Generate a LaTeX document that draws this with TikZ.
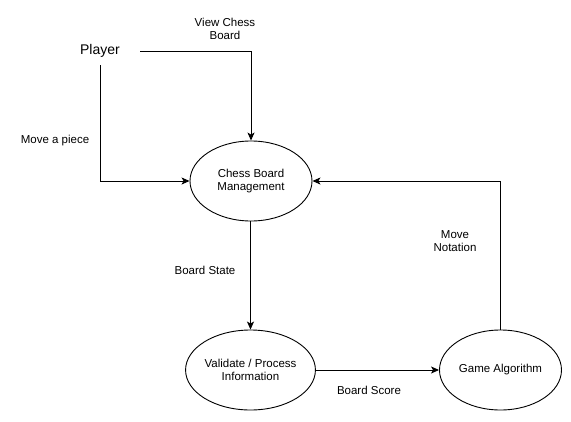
\documentclass[tikz,border=0pt]{standalone}
\usepackage{fontspec}
\setmainfont{Liberation Sans}
\usetikzlibrary{shapes.geometric,arrows.meta}

\tikzset{
  process/.style={ellipse,draw,line width=0.9pt,minimum width=122pt,minimum height=80pt,
    inner sep=0pt,align=center,font=\fontsize{11.5}{13.5}\selectfont},
  flowlabel/.style={align=center,font=\fontsize{11.5}{13.5}\selectfont},
  flow/.style={line width=0.9pt,-{Stealth[length=8pt,width=7pt,inset=2pt]}}
}

\begin{document}
\begin{tikzpicture}[x=1pt,y=-1pt]
  \useasboundingbox (0,0) rectangle (571,421);
  \node[minimum width=80pt,minimum height=28pt,inner sep=0pt,font=\fontsize{14}{16}\selectfont] (player) at (100,51) {Player};
  \node[process] (cbm) at (251,181) {Chess Board\\Management};
  \node[process] (validate) at (250.5,370) {Validate / Process\\Information};
  \node[process] (game) at (500.5,370) {Game Algorithm};
  \draw[flow] (player.east) -| (cbm.north);
  \draw[flow] (player.south) |- (cbm.west);
  \draw[flow] (cbm.south -| validate.north) -- (validate.north);
  \draw[flow] (validate.east) -- (game.west);
  \draw[flow] (game.north) |- (cbm.east);
  \node[flowlabel] (viewlbl) at (225,29) {View Chess\\Board};
  \node[flowlabel] (movelbl) at (55,141) {Move a piece};
  \node[flowlabel] (statelbl) at (205,270) {Board State};
  \node[flowlabel] (scorelbl) at (369,390) {Board Score};
  \node[flowlabel] (notelbl) at (455,241) {Move\\Notation};
\end{tikzpicture}
\end{document}
